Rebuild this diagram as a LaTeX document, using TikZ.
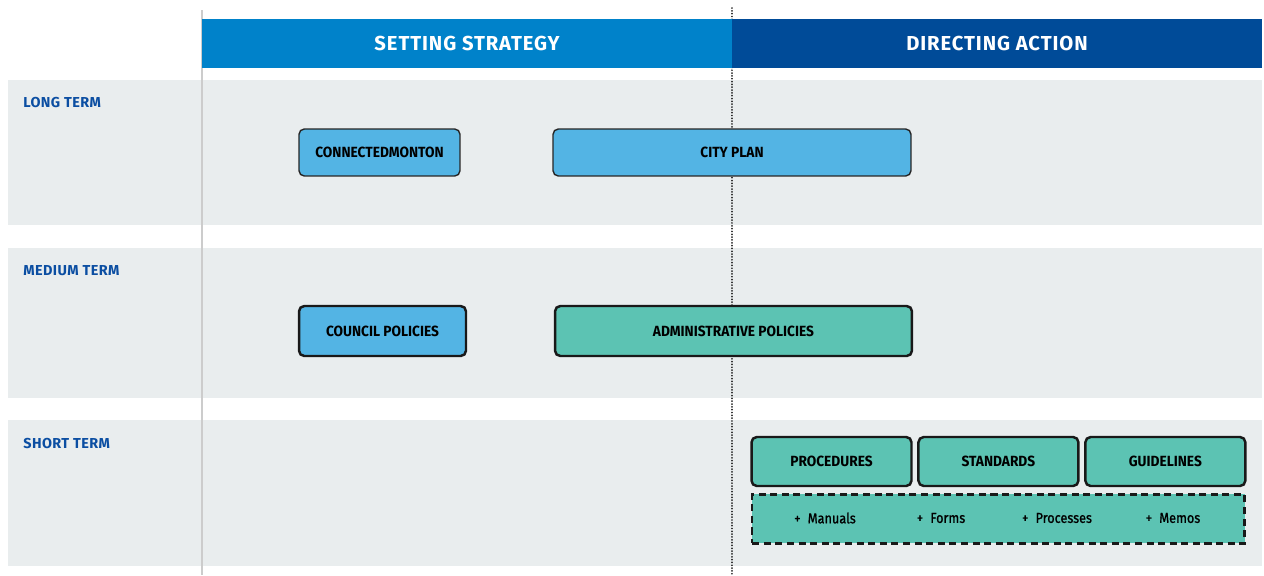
\documentclass[tikz,border=0pt]{standalone}
\usepackage{fontspec}
\setmainfont{Fira Sans}
\newfontfamily\narrowfont[FakeStretch=0.93]{Fira Sans}
\newfontfamily\headfont[LetterSpace=4.5]{Fira Sans}
\newfontfamily\termfont[LetterSpace=3]{Fira Sans}
\newfontfamily\itemfont[FakeStretch=0.88,FakeBold=1]{Fira Sans}
\usetikzlibrary{positioning}

\definecolor{stratblue}{HTML}{0082CA}
\definecolor{actionblue}{HTML}{004B98}
\definecolor{bandgray}{HTML}{E9EDEE}
\definecolor{planblue}{HTML}{53B4E4}
\definecolor{policyteal}{HTML}{5CC3B3}
\definecolor{termblue}{HTML}{0B4EA2}

\begin{document}
\begin{tikzpicture}[
x=0.02cm,y=-0.02cm,
head/.style={
  text=white,
  minimum width=10.6cm,
  minimum height=0.98cm,
  inner sep=0pt,
  font=\headfont\bfseries\fontsize{11.5}{13}\selectfont
},
term/.style={
  anchor=west,
  inner sep=0pt,
  text=termblue,
  font=\termfont\bfseries\fontsize{8.2}{9}\selectfont
},
plan/.style={
  draw=black!85,
  fill=planblue,
  rounded corners=3pt,
  line width=0.8pt,
  minimum height=0.94cm,
  font=\narrowfont\bfseries\fontsize{8.4}{10}\selectfont
},
policy/.style={
  draw=black!90,
  rounded corners=3pt,
  line width=1.4pt,
  minimum height=0.98cm,
  font=\narrowfont\bfseries\fontsize{8.4}{10}\selectfont
},
item/.style={
  inner sep=0pt,
  font=\itemfont\fontsize{8.2}{10}\selectfont
},
node distance=0.09cm
]
\useasboundingbox (0,0) rectangle (1264,575);

% rows
\fill[bandgray] (8,80) rectangle (1262,225);
\fill[bandgray] (8,248) rectangle (1262,398);
\fill[bandgray] (8,420) rectangle (1262,566);

\draw[black!20,line width=0.9pt] (202,10) -- (202,575);
\draw[black!85,line width=1.1pt,dash pattern=on 0.01pt off 1.6pt,line cap=round] (732,8) -- (732,575);

% column heads
\node[head,fill=stratblue] (strategy) at (467,43.5) {SETTING STRATEGY};
\node[head,fill=actionblue] (action) at (997,43.5) {DIRECTING ACTION};

\node[term] (long) at (23,103) {LONG TERM};
\node[term] (medium) at (23,271) {MEDIUM TERM};
\node[term] (short) at (23,444) {SHORT TERM};

% long term
\node[plan,minimum width=3.22cm] (connect) at (379.5,152.5) {CONNECTEDMONTON};
\node[plan,minimum width=7.16cm] (cityplan) at (732,152.5) {CITY PLAN};

% medium term
\node[policy,fill=planblue,minimum width=3.34cm,minimum height=1cm] (council) at (382.5,331) {COUNCIL POLICIES};
\node[policy,fill=policyteal,minimum width=7.14cm,minimum height=1cm] (admin) at (733.5,331) {ADMINISTRATIVE POLICIES};

% short term
\node[policy,fill=policyteal,minimum width=3.2cm] (procedures) at (831.5,461.5) {PROCEDURES};
\node[policy,fill=policyteal,minimum width=3.2cm,right=of procedures] (standards) {STANDARDS};
\node[policy,fill=policyteal,minimum width=3.2cm,right=of standards] (guidelines) {GUIDELINES};

\node[draw=black!90,fill=policyteal,dash pattern=on 4pt off 2.6pt,line width=1.4pt,
  minimum width=9.85cm,minimum height=0.98cm,below=0.12cm of standards] (tools) {};
\node[item] (manuals) at (825,518) {+\enspace Manuals};
\node[item] (forms) at (941,518) {+\enspace Forms};
\node[item] (processes) at (1057,518) {+\enspace Processes};
\node[item] (memos) at (1173,518) {+\enspace Memos};
\end{tikzpicture}
\end{document}
